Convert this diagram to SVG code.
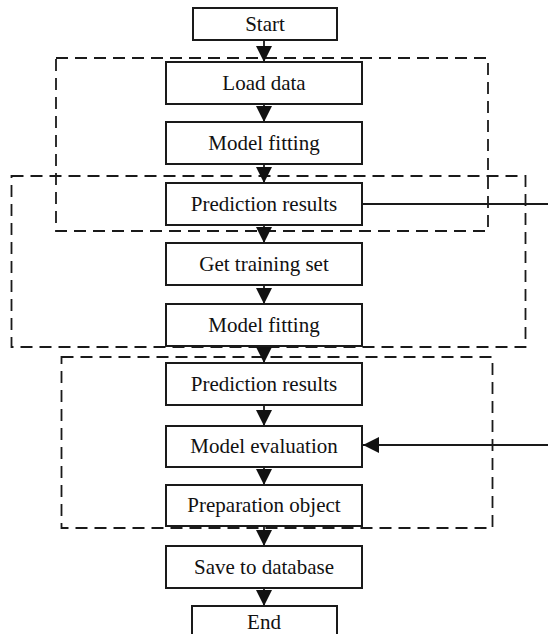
<svg xmlns="http://www.w3.org/2000/svg" width="548" height="634" viewBox="0 0 548 634">
<style>
.box{fill:#fff;stroke:#1a1a1a;stroke-width:2}
.dash{fill:none;stroke:#1a1a1a;stroke-width:1.8;stroke-dasharray:12 7}
.lbl{font-family:"Liberation Serif","Times New Roman",serif;font-size:21px;fill:#111;text-anchor:middle;dominant-baseline:central}
.ln{stroke:#1a1a1a;stroke-width:1.8;fill:none}
.ah{fill:#111}
</style>
<defs>
<marker id="arr" viewBox="0 0 16 16" refX="16" refY="8" markerWidth="16" markerHeight="16" markerUnits="userSpaceOnUse" orient="auto">
<path d="M0,0 L16,8 L0,16 Z" class="ah"/>
</marker>
</defs>
<g id="groups">
<rect class="dash" x="56" y="58" width="432" height="173"/>
<rect class="dash" x="11.5" y="176" width="514" height="171"/>
<rect class="dash" x="61.5" y="357" width="431" height="171"/>
</g>
<g id="connectors">
<line class="ln" x1="264" y1="40" x2="264" y2="62" marker-end="url(#arr)"/>
<line class="ln" x1="264" y1="104" x2="264" y2="122" marker-end="url(#arr)"/>
<line class="ln" x1="264" y1="164" x2="264" y2="183" marker-end="url(#arr)"/>
<line class="ln" x1="264" y1="225" x2="264" y2="243" marker-end="url(#arr)"/>
<line class="ln" x1="264" y1="285" x2="264" y2="304" marker-end="url(#arr)"/>
<line class="ln" x1="264" y1="346" x2="264" y2="363" marker-end="url(#arr)"/>
<line class="ln" x1="264" y1="405" x2="264" y2="426" marker-end="url(#arr)"/>
<line class="ln" x1="264" y1="467" x2="264" y2="485" marker-end="url(#arr)"/>
<line class="ln" x1="264" y1="526" x2="264" y2="546" marker-end="url(#arr)"/>
<line class="ln" x1="264" y1="588" x2="264" y2="606" marker-end="url(#arr)"/>
<line class="ln" x1="363" y1="204" x2="548" y2="204"/>
<line class="ln" x1="548" y1="445" x2="363" y2="445" marker-end="url(#arr)"/>
</g>
<g id="n-start"><rect class="box" x="193" y="8" width="144" height="32"/><text class="lbl" x="265" y="24">Start</text></g>
<g id="n-load"><rect class="box" x="166" y="62" width="196" height="42"/><text class="lbl" x="264" y="83">Load data</text></g>
<g id="n-fit1"><rect class="box" x="166" y="122" width="196" height="42"/><text class="lbl" x="264" y="143">Model fitting</text></g>
<g id="n-pred1"><rect class="box" x="166" y="183" width="196" height="42"/><text class="lbl" x="264" y="204">Prediction results</text></g>
<g id="n-train"><rect class="box" x="166" y="243" width="196" height="42"/><text class="lbl" x="264" y="264">Get training set</text></g>
<g id="n-fit2"><rect class="box" x="166" y="304" width="196" height="42"/><text class="lbl" x="264" y="325">Model fitting</text></g>
<g id="n-pred2"><rect class="box" x="166" y="363" width="196" height="42"/><text class="lbl" x="264" y="384">Prediction results</text></g>
<g id="n-eval"><rect class="box" x="166" y="426" width="196" height="41"/><text class="lbl" x="264" y="446">Model evaluation</text></g>
<g id="n-prep"><rect class="box" x="166" y="485" width="196" height="41"/><text class="lbl" x="264" y="505">Preparation object</text></g>
<g id="n-save"><rect class="box" x="166" y="546" width="196" height="42"/><text class="lbl" x="264" y="567">Save to database</text></g>
<g id="n-end"><rect class="box" x="192" y="606" width="145" height="40"/><text class="lbl" x="264" y="622">End</text></g>
</svg>
